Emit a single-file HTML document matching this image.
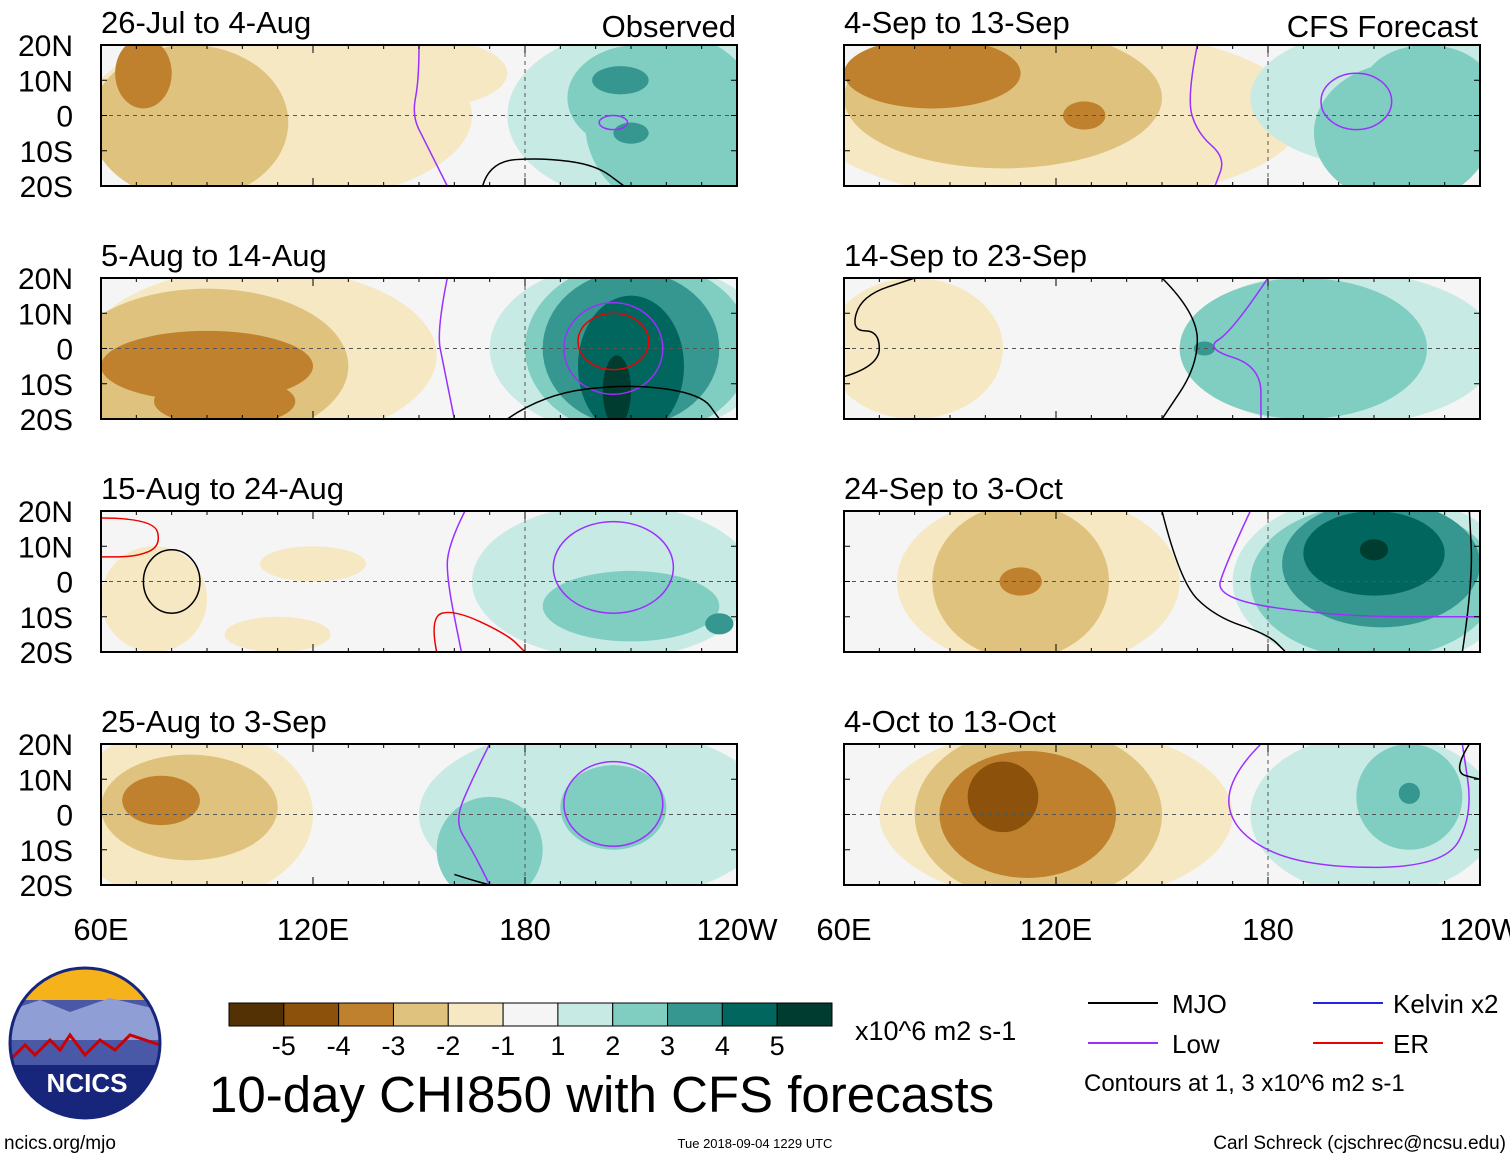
<!DOCTYPE html>
<html><head><meta charset="utf-8">
<style>
body{margin:0;background:#fff;width:1510px;height:1158px;overflow:hidden;font-family:"Liberation Sans",sans-serif;}
svg{position:absolute;left:0;top:0}
</style></head>
<body>
<svg id="chart" width="1510" height="1158"></svg>
<script>
// ---- data ----
const panelTitles=["26-Jul to 4-Aug","5-Aug to 14-Aug","15-Aug to 24-Aug","25-Aug to 3-Sep","4-Sep to 13-Sep","14-Sep to 23-Sep","24-Sep to 3-Oct","4-Oct to 13-Oct"];
const levels=[-5,-4,-3,-2,-1,1,2,3,4,5];
const levelColors=["#543005","#8c510a","#bf812d","#dfc27d","#f6e8c3","#c7eae5","#80cdc1","#35978f","#01665e","#003c30"];
const latTicks=["20N","10N","0","10S","20S"];
const lonTicks=["60E","120E","180","120W"];
// anomaly blobs: [lon, lat, lonRadius, latRadius, level]
const blobs=[
 [[110,0,55,25,-1],[150,12,25,10,-1],[85,-2,28,22,-2],[72,12,8,10,-3],[215,0,40,25,1],[222,-2,25,25,2],[212,5,20,15,2],[207,10,8,4,3],[210,-5,5,3,3]],
 [[105,-2,50,25,-1],[90,-5,40,22,-2],[90,-5,30,10,-3],[95,-15,20,7,-3],[210,0,40,25,1],[212,0,32,25,2],[210,0,25,22,3],[210,-5,15,20,4],[206,-12,4,10,5]],
 [[75,-5,15,15,-1],[110,-15,15,5,-1],[120,5,15,5,-1],[205,0,40,22,1],[210,-7,25,10,2],[235,-12,4,3,3]],
 [[85,0,35,25,-1],[85,2,25,15,-2],[77,4,11,7,-3],[200,0,50,25,1],[170,-10,15,15,2],[205,2,15,12,2]],
 [[120,0,70,25,-1],[105,5,45,20,-2],[85,12,25,10,-3],[128,0,6,4,-3],[215,5,40,20,1],[218,-5,25,20,2],[225,8,18,12,2]],
 [[80,0,25,20,-1],[200,0,45,22,1],[190,0,35,20,2],[162,0,3,2,3]],
 [[115,0,40,25,-1],[110,0,25,22,-2],[110,0,6,4,-3],[210,0,40,25,1],[210,0,35,22,2],[212,5,28,18,3],[210,8,20,12,4],[210,9,4,3,5]],
 [[120,0,50,25,-1],[115,0,35,25,-2],[112,0,25,18,-3],[105,5,10,10,-4],[210,0,35,23,1],[220,5,15,15,2],[220,6,3,3,3]]
];
// contour lines: [type, points]  type: mjo/low/er ; ellipse given as {e:[lon,lat,rx,ry]}
const contours=[
 [["mjo",[[168,-20],[170,-13],[185,-12],[200,-14],[208,-20]]],["low",[[150,20],[150,10],[148,0],[152,-8],[158,-20]]],["low",{e:[205,-2,4,2]}]],
 [["low",{e:[205,0,14,13]}],["er",{e:[205,2,10,8]}],["mjo",[[175,-20],[185,-13],[210,-10],[230,-13],[235,-20]]],["low",[[158,20],[155,5],[157,-5],[160,-20]]]],
 [["low",{e:[205,4,17,13]}],["low",[[163,20],[158,10],[158,0],[162,-20]]],["mjo",{e:[80,0,8,9]}],["er",[[60,18],[75,18],[77,10],[70,7],[60,7]]],["er",[[155,-20],[153,-10],[160,-8],[175,-15],[180,-20]]]],
 [["low",{e:[205,3,14,12]}],["low",[[170,20],[165,10],[160,-2],[165,-10],[170,-20]]],["mjo",[[160,-17],[163,-18],[170,-20]]]],
 [["low",{e:[205,4,10,8]}],["low",[[160,20],[157,5],[160,-5],[168,-12],[165,-20]]]],
 [["mjo",[[60,-8],[70,-5],[70,5],[62,5],[65,15],[80,20]]],["mjo",[[150,20],[160,10],[160,-5],[150,-20]]],["low",[[180,20],[170,5],[162,0],[178,-5],[178,-20]]]],
 [["mjo",[[150,20],[155,0],[165,-10],[180,-15],[185,-20]]],["mjo",[[235,-20],[238,0],[237,20]]],["low",[[175,20],[168,5],[165,-5],[200,-10],[240,-10]]]],
 [["low",[[178,20],[168,10],[170,-5],[190,-15],[230,-15],[238,0],[235,20]]],["mjo",[[237,20],[232,12],[240,10]]]]
];
const lineColors={mjo:"#000",low:"#9b30ff",er:"#ee0000"};
// ---- drawing ----
const NS="http://www.w3.org/2000/svg";
const svg=document.getElementById('chart');
function el(t,a,p){const e=document.createElementNS(NS,t);for(const k in a)e.setAttribute(k,a[k]);(p||svg).appendChild(e);return e;}
function smooth(pts){
 let d="M"+pts[0][0]+","+pts[0][1];
 for(let i=1;i<pts.length-1;i++){const mx=(pts[i][0]+pts[i+1][0])/2,my=(pts[i][1]+pts[i+1][1])/2;d+=" Q"+pts[i][0]+","+pts[i][1]+" "+mx+","+my;}
 const l=pts[pts.length-1];d+=" L"+l[0]+","+l[1];return d;
}
const W=636,H=141,lefts=[101,844],tops=[45,278,511,744];
panelTitles.forEach((title,i)=>{
 const col=Math.floor(i/4),row=i%4,x0=lefts[col],y0=tops[row];
 const xs=lon=>x0+(lon-60)/180*W, ys=lat=>y0+(20-lat)/40*H;
 const g=el('g',{});
 
 
 const cp=el('clipPath',{id:'c'+i},g);
 el('rect',{x:x0,y:y0,width:W,height:H},cp);
 el('rect',{x:x0,y:y0,width:W,height:H,fill:"#f5f5f5"},g);
 const inner=el('g',{'clip-path':`url(#c${i})`},g);
 const bl=blobs[i].slice().sort((a,b)=>Math.abs(a[4])-Math.abs(b[4]));
 bl.forEach(b=>{
  const e=el('ellipse',{cx:xs(b[0]),cy:ys(b[1]),rx:b[2]/180*W,ry:b[3]/40*H,fill:levelColors[levels.indexOf(b[4])]},inner);
  
  
 });
 el('line',{x1:x0,x2:x0+W,y1:ys(0),y2:ys(0),stroke:"#555","stroke-dasharray":"4,4","stroke-width":1},inner);
 el('line',{x1:xs(180),x2:xs(180),y1:y0,y2:y0+H,stroke:"#555","stroke-dasharray":"4,4","stroke-width":1},inner);
 contours[i].forEach(c=>{
  let e;
  if(c[1].e){const q=c[1].e;e=el('ellipse',{cx:xs(q[0]),cy:ys(q[1]),rx:q[2]/180*W,ry:q[3]/40*H,fill:"none",stroke:lineColors[c[0]],"stroke-width":1.5},inner);}
  else{e=el('path',{d:smooth(c[1].map(p=>[xs(p[0]),ys(p[1])])),fill:"none",stroke:lineColors[c[0]],"stroke-width":1.5,"stroke-linejoin":"round"},inner);}
  
  
 });
 el('rect',{x:x0,y:y0,width:W,height:H,fill:"none",stroke:"#000","stroke-width":2},g);
 for(let lon=60;lon<=240;lon+=10){const L=lon%60==0?8:4;el('line',{x1:xs(lon),x2:xs(lon),y1:y0,y2:y0+L,stroke:"#000"},g);el('line',{x1:xs(lon),x2:xs(lon),y1:y0+H,y2:y0+H-L,stroke:"#000"},g);}
 for(let lat=-20;lat<=20;lat+=10){el('line',{x1:x0,x2:x0+6,y1:ys(lat),y2:ys(lat),stroke:"#000"},g);el('line',{x1:x0+W,x2:x0+W-6,y1:ys(lat),y2:ys(lat),stroke:"#000"},g);}
 const t=el('text',{x:x0,y:y0-12,'font-size':31,fill:"#000"},g);t.textContent=title;
 
 
 if(col==0){latTicks.forEach((s,k)=>{const tt=el('text',{x:73,y:y0+k*H/4+11,'font-size':30,'text-anchor':'end'},g);tt.textContent=s;
  
  });}
 if(row==3){lonTicks.forEach((s,k)=>{const tt=el('text',{x:x0+k*W/3,y:940,'font-size':31,'text-anchor':'middle'},g);tt.textContent=s;
  
  });}
});
function txt(x,y,s,fs,name,anchor){const t=el('text',{x:x,y:y,'font-size':fs,'text-anchor':anchor||'start'});t.textContent=s;
 
 return t;}
txt(736,37,"Observed",31,"observed-label","end");
txt(1478,37,"CFS Forecast",31,"forecast-label","end");
// colorbar
const cb=el('g',{});


const cbw=(832-229)/11,cbColors=[levelColors[0],levelColors[1],levelColors[2],levelColors[3],levelColors[4],"#f5f5f5",levelColors[5],levelColors[6],levelColors[7],levelColors[8],levelColors[9]];
cbColors.forEach((c,k)=>el('rect',{x:229+k*cbw,y:1003,width:cbw,height:23,fill:c,stroke:"#000","stroke-width":1},cb));
levels.forEach((v,k)=>{const t=el('text',{x:229+(k+1)*cbw,y:1055,'font-size':27,'text-anchor':'middle'},cb);t.textContent=v;});
txt(855,1040,"x10^6 m2 s-1",27,"colorbar-units");
txt(209,1112,"10-day CHI850 with CFS forecasts",51,"main-title");
// legend
[["mjo",1088,1003,"MJO",1172],["low",1088,1043,"Low",1172],["kelvin",1313,1003,"Kelvin x2",1393],["er",1313,1043,"ER",1393]].forEach(l=>{
 const c=l[0]=="kelvin"?"#2222ee":lineColors[l[0]];
 const ln=el('line',{x1:l[1],x2:l[1]+70,y1:l[2],y2:l[2],stroke:c,"stroke-width":2});
 
 
 txt(l[4],l[2]+10,l[3],26,'legend-label-'+l[0]);
});
txt(1084,1091,"Contours at 1, 3 x10^6 m2 s-1",24,"contour-note");
txt(4,1149,"ncics.org/mjo",19,"site-url");
txt(755,1148,"Tue 2018-09-04 1229 UTC",13,"timestamp","middle");
txt(1506,1149,"Carl Schreck (cjschrec@ncsu.edu)",19,"author","end");
// logo
const lg=el('g',{});


const lc=el('clipPath',{id:'lc'},lg);
el('circle',{cx:85,cy:1043,r:75},lc);
const lgi=el('g',{'clip-path':'url(#lc)'},lg);
el('rect',{x:10,y:968,width:150,height:150,fill:"#f6b21b"},lgi);
el('rect',{x:10,y:1000,width:150,height:120,fill:"#4a58a8"},lgi);
el('polygon',{points:"10,1010 40,1000 70,1012 110,998 160,1010 160,1040 10,1040",fill:"#8f9fd6"},lgi);
el('polyline',{points:"10,1060 25,1045 35,1055 50,1040 60,1050 70,1035 85,1055 100,1040 115,1050 130,1035 160,1045",fill:"none",stroke:"#c00","stroke-width":3},lgi);
el('rect',{x:10,y:1065,width:150,height:60,fill:"#17257a"},lgi);
el('circle',{cx:85,cy:1043,r:75,fill:"none",stroke:"#17257a","stroke-width":3},lg);
const lt=el('text',{x:87,y:1092,'font-size':26,'font-weight':'bold',fill:"#fff",'text-anchor':'middle'},lg);lt.textContent="NCICS";
</script>
</body></html>
